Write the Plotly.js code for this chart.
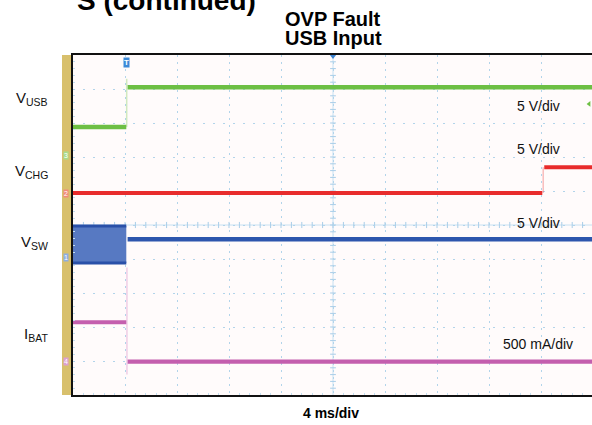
<!DOCTYPE html>
<html>
<head>
<meta charset="utf-8">
<script src="https://cdn.plot.ly/plotly-3.0.1.min.js"></script>
<style>html,body{margin:0;padding:0;background:#fff;}#chart{width:592px;height:425px;}</style>
</head>
<body>
<div id="chart"></div>
<script>
// Time axis in ms (4 ms/div), vertical values in screen divisions (10 div tall)
const vusbT = [0, 4.1, null, 4.2, 40];
const vusbY = [7.88, 7.88, null, 9.05, 9.05];
const vusbEdgeT = [4.13, 4.13];
const vusbEdgeY = [7.88, 9.3];

const vchgT = [0, 36.1, null, 36.25, 40];
const vchgY = [5.94, 5.94, null, 6.70, 6.70];
const vchgEdgeT = [36.17, 36.17];
const vchgEdgeY = [5.94, 6.70];

const vswBandT = [0, 4.1];
const vswHigh = [4.97, 4.97];
const vswLow = [3.88, 3.88];
const vswT = [4.2, 40];
const vswY = [4.58, 4.58];

const ibatT = [0, 4.1, null, 4.2, 40];
const ibatY = [2.14, 2.14, null, 0.98, 0.98];
const ibatEdgeT = [4.15, 4.15];
const ibatEdgeY = [3.75, 0.6];

const channelNames = ['V<sub>USB</sub>', 'V<sub>CHG</sub>', 'V<sub>SW</sub>', 'I<sub>BAT</sub>'];
const channelLabelY = [8.72, 6.56, 4.5, 1.78];
const scaleLabels = ['5 V/div', '5 V/div', '5 V/div', '500 mA/div'];
const scaleLabelY = [8.5, 7.24, 5.07, 1.51];
const chanMarkers = ['3', '2', '1', '4'];
const chanMarkerY = [7.03, 5.94, 4.03, 1.0];
const chanColors = ['#6dbf44', '#e82c2c', '#2d56ad', '#c45fae'];
const chanMarkerFill = ['#a8dc8c', '#f28a7a', '#8eaee0', '#dca0d0'];
const timeBaseLabel = '4 ms/div';
const titleLines = ['OVP Fault', 'USB Input'];
const pageHeading = 'S (continued)';
const triggerTime = 4.15;

const traces = [
  {x: vusbEdgeT, y: vusbEdgeY, mode: 'lines', line: {color: 'rgba(120,200,80,0.35)', width: 1.5}, hoverinfo: 'skip'},
  {x: vusbT, y: vusbY, mode: 'lines', line: {color: chanColors[0], width: 4.5}, connectgaps: false},
  {x: vchgEdgeT, y: vchgEdgeY, mode: 'lines', line: {color: 'rgba(232,44,44,0.3)', width: 1.5}},
  {x: vchgT, y: vchgY, mode: 'lines', line: {color: chanColors[1], width: 4}, connectgaps: false},
  {x: vswBandT, y: vswHigh, mode: 'lines', line: {color: '#2a50a8', width: 3}},
  {x: vswBandT, y: vswLow, mode: 'lines', line: {color: '#2a50a8', width: 3}, fill: 'tonexty', fillcolor: '#5779c2'},
  {x: vswT, y: vswY, mode: 'lines', line: {color: chanColors[2], width: 4.5}},
  {x: ibatEdgeT, y: ibatEdgeY, mode: 'lines', line: {color: 'rgba(210,120,190,0.35)', width: 1.5}},
  {x: ibatT, y: ibatY, mode: 'lines', line: {color: chanColors[3], width: 4.2}, connectgaps: false},
  {x: [20], y: [9.97], mode: 'markers', marker: {symbol: 'triangle-down', size: 6, color: '#3b82d0'}, cliponaxis: false},
  {x: [39.7], y: [8.56], mode: 'markers', marker: {symbol: 'triangle-left', size: 5, color: chanColors[0]}, cliponaxis: false}
];

const xMax = 40 * 519 / 520;
const gridCol = '#b2d4ea';
const tickCol = '#c3def0';
const shapes = [];
// gold side bar
shapes.push({type: 'rect', xref: 'paper', yref: 'paper', x0: -0.0212, x1: -0.002, y0: 0, y1: 1,
  fillcolor: '#d8c06c', line: {width: 0}, layer: 'below'});
// center cross lines
shapes.push({type: 'line', xref: 'x', yref: 'y', x0: 0, x1: 40, y0: 5, y1: 5, line: {color: '#c6e0f2', width: 1}, layer: 'below'});
shapes.push({type: 'line', xref: 'x', yref: 'y', x0: 20, x1: 20, y0: 0, y1: 10, line: {color: '#c6e0f2', width: 1}, layer: 'below'});
for (let i = 1; i < 50; i++) {
  const xv = i * 0.8;
  shapes.push({type: 'line', xref: 'x', yref: 'y', x0: xv, x1: xv, y0: 4.91, y1: 5.09, line: {color: '#a8cde8', width: 1}, layer: 'below'});
}
for (let i = 1; i < 50; i++) {
  const yv = i * 0.2;
  shapes.push({type: 'line', xref: 'x', yref: 'y', x0: 19.78, x1: 20.22, y0: yv, y1: yv, line: {color: '#a8cde8', width: 1}, layer: 'below'});
}

const annotations = [];
channelNames.forEach((n, i) => annotations.push({
  xref: 'paper', yref: 'y', x: -0.044, y: channelLabelY[i], xanchor: 'right', yanchor: 'middle',
  text: n, showarrow: false, font: {family: 'Arial, Liberation Sans, sans-serif', size: 15, color: '#111'}
}));
scaleLabels.forEach((s, i) => annotations.push({
  xref: 'x', yref: 'y', x: 35.77, y: scaleLabelY[i], xanchor: 'center', yanchor: 'middle',
  text: s, showarrow: false, font: {family: 'Arial, Liberation Sans, sans-serif', size: 14, color: '#111'}
}));
chanMarkers.forEach((m, i) => annotations.push({
  xref: 'paper', yref: 'y', x: -0.0135, y: chanMarkerY[i], xanchor: 'center', yanchor: 'middle',
  text: m, showarrow: false, bgcolor: chanMarkerFill[i], borderpad: 0,
  font: {family: 'Arial, Liberation Sans, sans-serif', size: 7, color: '#fff'}
}));
annotations.push({xref: 'x', yref: 'y', x: triggerTime, y: 9.79, text: '<b>T</b>', showarrow: false,
  bgcolor: '#3c8ad8', borderpad: 0, font: {family: 'Arial, Liberation Sans, sans-serif', size: 8, color: '#fff'}});
annotations.push({xref: 'paper', yref: 'paper', x: (333 - 73) / 519, y: 1 + 36 / 340, xanchor: 'center', yanchor: 'middle',
  text: '<b>' + titleLines[0] + '</b>', showarrow: false, font: {family: 'Arial, Liberation Sans, sans-serif', size: 20, color: '#000'}});
annotations.push({xref: 'paper', yref: 'paper', x: (333 - 73) / 519, y: 1 + 17 / 340, xanchor: 'center', yanchor: 'middle',
  text: '<b>' + titleLines[1] + '</b>', showarrow: false, font: {family: 'Arial, Liberation Sans, sans-serif', size: 20, color: '#000'}});
annotations.push({xref: 'paper', yref: 'paper', x: (331 - 73) / 519, y: -18 / 340, xanchor: 'center', yanchor: 'middle',
  text: '<b>' + timeBaseLabel + '</b>', showarrow: false, font: {family: 'Arial, Liberation Sans, sans-serif', size: 14, color: '#000'}});
annotations.push({xref: 'paper', yref: 'paper', x: (257 - 73) / 519, y: 1 + (55 - 17) / 340, xanchor: 'right', yanchor: 'bottom',
  text: '<b>' + pageHeading + '</b>', showarrow: false, borderpad: 0, font: {family: 'Arial, Liberation Sans, sans-serif', size: 28, color: '#000'}});

const layout = {
  width: 592, height: 425,
  margin: {l: 73, r: 0, t: 55, b: 30, pad: 0},
  paper_bgcolor: '#ffffff', plot_bgcolor: '#fffbfb',
  showlegend: false,
  xaxis: {range: [0, xMax], dtick: 4, tick0: 0, showticklabels: false, ticks: '', zeroline: false,
    showgrid: true, gridcolor: gridCol, gridwidth: 1, griddash: '2px,5px',
    showline: true, linecolor: '#111', linewidth: 2, mirror: true,
    minor: {dtick: 0.8, ticks: 'inside', ticklen: 2, tickcolor: tickCol, showgrid: false}},
  yaxis: {range: [0, 10], dtick: 1, tick0: 0, showticklabels: false, ticks: '', zeroline: false,
    showgrid: true, gridcolor: gridCol, gridwidth: 1, griddash: '2px,8px',
    showline: true, linecolor: '#111', linewidth: 2, mirror: false,
    minor: {dtick: 0.2, ticks: 'inside', ticklen: 2, tickcolor: tickCol, showgrid: false}},
  shapes: shapes,
  annotations: annotations
};

Plotly.newPlot('chart', traces, layout, {displayModeBar: false, staticPlot: true});
</script>
</body>
</html>
